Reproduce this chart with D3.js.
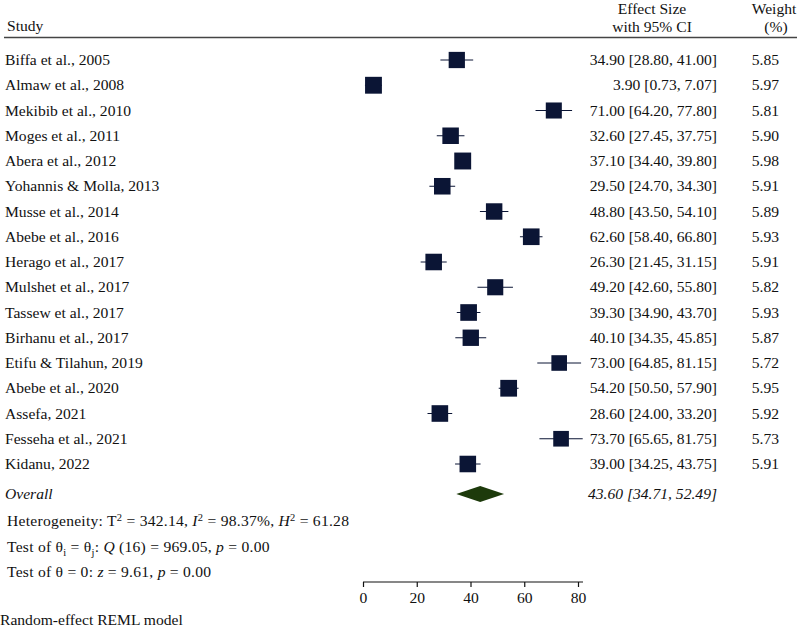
<!DOCTYPE html>
<html><head><meta charset="utf-8">
<script src="https://cdn.jsdelivr.net/npm/d3@7"></script>
<style>
body{margin:0;background:#fff;}
text{font-family:"Liberation Serif","DejaVu Serif",serif;font-size:15.6px;fill:#111;}
</style></head>
<body>
<svg id="c" width="797" height="628"></svg>
<script>
const studies = ["Biffa et al., 2005","Almaw et al., 2008","Mekibib et al., 2010","Moges et al., 2011","Abera et al., 2012","Yohannis & Molla, 2013","Musse et al., 2014","Abebe et al., 2016","Herago et al., 2017","Mulshet et al., 2017","Tassew et al., 2017","Birhanu et al., 2017","Etifu & Tilahun, 2019","Abebe et al., 2020","Assefa, 2021","Fesseha et al., 2021","Kidanu, 2022"];
const effect = [34.90,3.90,71.00,32.60,37.10,29.50,48.80,62.60,26.30,49.20,39.30,40.10,73.00,54.20,28.60,73.70,39.00];
const lower = [28.80,0.73,64.20,27.45,34.40,24.70,43.50,58.40,21.45,42.60,34.90,34.35,64.85,50.50,24.00,65.65,34.25];
const upper = [41.00,7.07,77.80,37.75,39.80,34.30,54.10,66.80,31.15,55.80,43.70,45.85,81.15,57.90,33.20,81.75,43.75];
const weight = [5.85,5.97,5.81,5.90,5.98,5.91,5.89,5.93,5.91,5.82,5.93,5.87,5.72,5.95,5.92,5.73,5.91];
const overall = {est:43.60, lo:34.71, hi:52.49};
const xTicks = [0,20,40,60,80];

const svg = d3.select("#c");
const x = d3.scaleLinear().domain([0,80]).range([363,578]);
const y = d3.scaleLinear().domain([0,16]).range([60,464]);
const sz = d3.scaleLinear().domain([5.7,6.0]).range([15.5,17]);

// header
svg.append("text").attr("x",7).attr("y",31).text("Study");
svg.append("text").attr("x",652).attr("y",14).attr("text-anchor","middle").text("Effect Size");
svg.append("text").attr("x",652).attr("y",32).attr("text-anchor","middle").text("with 95% CI");
svg.append("text").attr("x",774).attr("y",14).attr("text-anchor","middle").text("Weight");
svg.append("text").attr("x",776).attr("y",32).attr("text-anchor","middle").text("(%)");
svg.append("line").attr("x1",4).attr("x2",797).attr("y1",37.5).attr("y2",37.5).attr("stroke","#444").attr("stroke-width",1.3);

const rows = svg.append("g");
studies.forEach((s,i)=>{
  const yy = y(i);
  rows.append("text").attr("x",5).attr("y",yy+5).text(s);
  rows.append("line").attr("x1",x(lower[i])).attr("x2",x(upper[i])).attr("y1",yy).attr("y2",yy).attr("stroke","#0b1535").attr("stroke-width",1);
  const w = sz(weight[i]);
  rows.append("rect").attr("x",x(effect[i])-w/2).attr("y",yy-w/2).attr("width",w).attr("height",w).attr("fill","#0b1535");
  rows.append("text").attr("x",717).attr("y",yy+5).attr("text-anchor","end")
    .text(`${effect[i].toFixed(2)} [${lower[i].toFixed(2)}, ${upper[i].toFixed(2)}]`);
  rows.append("text").attr("x",779).attr("y",yy+5).attr("text-anchor","end").text(weight[i].toFixed(2));
});

// overall
const oy = 494;
svg.append("text").attr("x",5).attr("y",oy+5).attr("font-style","italic").text("Overall");
svg.append("path").attr("d",`M${x(overall.lo)},${oy} L${x(overall.est)},${oy-8} L${x(overall.hi)},${oy} L${x(overall.est)},${oy+8} Z`).attr("fill","#1d3a0b");
svg.append("text").attr("x",717).attr("y",oy+5).attr("text-anchor","end").attr("font-style","italic")
  .text(`${overall.est.toFixed(2)} [${overall.lo.toFixed(2)}, ${overall.hi.toFixed(2)}]`);

// heterogeneity
const t1 = svg.append("text").attr("x",7).attr("y",526).attr("letter-spacing","0.25px");
t1.append("tspan").text("Heterogeneity: T");
t1.append("tspan").attr("dy",-5).attr("font-size","10.5px").text("2");
t1.append("tspan").attr("dy",5).text(" = 342.14, ");
t1.append("tspan").attr("font-style","italic").text("I");
t1.append("tspan").attr("dy",-5).attr("font-size","10.5px").text("2");
t1.append("tspan").attr("dy",5).text(" = 98.37%, ");
t1.append("tspan").attr("font-style","italic").text("H");
t1.append("tspan").attr("dy",-5).attr("font-size","10.5px").text("2");
t1.append("tspan").attr("dy",5).text(" = 61.28");

const t2 = svg.append("text").attr("x",7).attr("y",552).attr("letter-spacing","0.25px");
t2.append("tspan").text("Test of θ");
t2.append("tspan").attr("dy",4).attr("font-size","10.5px").text("i");
t2.append("tspan").attr("dy",-4).text(" = θ");
t2.append("tspan").attr("dy",4).attr("font-size","10.5px").text("j");
t2.append("tspan").attr("dy",-4).text(": ");
t2.append("tspan").attr("font-style","italic").text("Q");
t2.append("tspan").text(" (16) = 969.05, ");
t2.append("tspan").attr("font-style","italic").text("p");
t2.append("tspan").text(" = 0.00");

const t3 = svg.append("text").attr("x",7).attr("y",577).attr("letter-spacing","0.25px");
t3.append("tspan").text("Test of θ = 0: ");
t3.append("tspan").attr("font-style","italic").text("z");
t3.append("tspan").text(" = 9.61, ");
t3.append("tspan").attr("font-style","italic").text("p");
t3.append("tspan").text(" = 0.00");

// axis
const ax = svg.append("g").attr("transform","translate(0,582)")
  .call(d3.axisBottom(x).tickValues(xTicks).tickSize(5).tickPadding(5).tickSizeOuter(0));
ax.select(".domain").attr("d",`M${x(0)},0H${x(80)+5}`).attr("stroke","#111").attr("stroke-width",1.2);
ax.selectAll(".tick line").attr("stroke","#111").attr("stroke-width",1.2);
ax.selectAll(".tick text").style("font-family","'Liberation Serif',serif").style("font-size","15.6px").attr("fill","#111");

svg.append("text").attr("x",0).attr("y",625).text("Random-effect REML model");
</script>
</body></html>
